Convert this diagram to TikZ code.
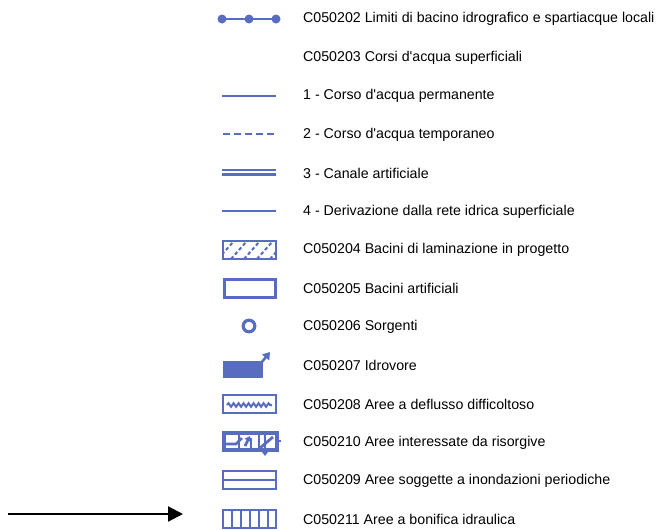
\documentclass[tikz,border=0pt]{standalone}
\usepackage{fontspec}
\setmainfont[Mapping=]{Liberation Sans}
\usetikzlibrary{arrows.meta,decorations.pathmorphing}

\definecolor{legblue}{RGB}{88,108,192}

\tikzset{
    lbl/.style={anchor=west, inner sep=0pt, font=\fontsize{14.2}{16}\selectfont},
    sym/.style={draw=legblue, line width=2.8pt},
    thinsym/.style={draw=legblue, line width=1.8pt},
}
\newcommand{\apo}{\textquotesingle}

\begin{document}
\begin{tikzpicture}[x=1pt, y=-1pt]
    \useasboundingbox (0,0) rectangle (657,530);

    % legend texts
    \node[lbl] (t1) at (303,19) {C050202 Limiti di bacino idrografico e spartiacque locali};
    \node[lbl] (t2) at (303,57.5) {C050203 Corsi d\apo acqua superficiali};
    \node[lbl] (t3) at (303,96) {1 - Corso d\apo acqua permanente};
    \node[lbl] (t4) at (303,134.5) {2 - Corso d\apo acqua temporaneo};
    \node[lbl] (t5) at (303,173) {3 - Canale artificiale};
    \node[lbl] (t6) at (303,211.5) {4 - Derivazione dalla rete idrica superficiale};
    \node[lbl] (t7) at (303,250) {C050204 Bacini di laminazione in progetto};
    \node[lbl] (t8) at (303,288.5) {C050205 Bacini artificiali};
    \node[lbl] (t9) at (303,327) {C050206 Sorgenti};
    \node[lbl] (t10) at (303,365.5) {C050207 Idrovore};
    \node[lbl] (t11) at (303,404) {C050208 Aree a deflusso difficoltoso};
    \node[lbl] (t12) at (303,442.5) {C050210 Aree interessate da risorgive};
    \node[lbl] (t13) at (303,481) {C050209 Aree soggette a inondazioni periodiche};
    \node[lbl] (t14) at (303,519.5) {C050211 Aree a bonifica idraulica};

    % symbols
    \draw[sym, line width=2.4pt] (222,19) -- (276,19);
    \foreach \x in {222,249,276}
        \fill[legblue] (\x,19) circle (4.5);

    \draw[sym] (222,96) -- (276,96);
    \draw[sym, dash pattern=on 7pt off 4pt] (223,134) -- (276,134);
    \draw[sym, line width=2.2pt] (222,170) -- (276,170);
    \draw[sym, line width=2.2pt] (222,174.5) -- (276,174.5);
    \draw[sym, line width=2.2pt] (222,211) -- (276,211);

    \begin{scope}
        \clip (223,241) rectangle (276,259);
        \foreach \x in {218,231,244,257,270}
            \draw[sym, line width=2pt, dash pattern=on 3.5pt off 2.5pt] (\x,259) -- (\x+16,241);
    \end{scope}
    \draw[thinsym] (223,241) rectangle (276,259);

    \draw[sym, line width=3pt] (224,279) rectangle (275,297);
    \draw[sym, line width=3.2pt] (249,326) circle (5.8);

    \fill[legblue] (223,361) rectangle (263,378);
    \draw[sym, line width=2.5pt, -{Triangle[length=7pt,width=9pt]}] (257,368) -- (270,352);

    \draw[thinsym] (223,395) rectangle (276,413);
    \draw[thinsym, line width=2pt, decorate, decoration={snake, amplitude=1.8pt, segment length=5pt}] (227,405) -- (272,405);

    \draw[sym, line width=3.4pt] (224,433) rectangle (277,450);
    \draw[sym] (239,433) -- (239,450);
    \draw[sym] (259,433) -- (259,450);
    \draw[sym] (224,444) -- (236,444) -- (242,438);
    \draw[sym, -{Triangle[length=5pt,width=7pt]}] (245,446) -- (250,436);
    \draw[sym] (251,438) -- (251,450);
    \draw[sym, -{Triangle[length=5pt,width=7pt]}] (265,435) -- (265,456);
    \draw[sym] (260,448) -- (273,437);
    \draw[sym] (277,441) -- (281,441);

    \draw[thinsym] (223,471) rectangle (276,489);
    \draw[thinsym] (223,480) -- (276,480);

    \draw[thinsym] (223,510) rectangle (276,528);
    \foreach \x in {232,241,250,259,268}
        \draw[thinsym] (\x,510) -- (\x,528);

    % pointer arrow
    \coordinate (pstart) at (8,514);
    \coordinate (pend) at (183,514);
    \draw[line width=2.2pt, -{Triangle[length=15pt,width=15pt]}] (pstart) -- (pend);
\end{tikzpicture}
\end{document}
